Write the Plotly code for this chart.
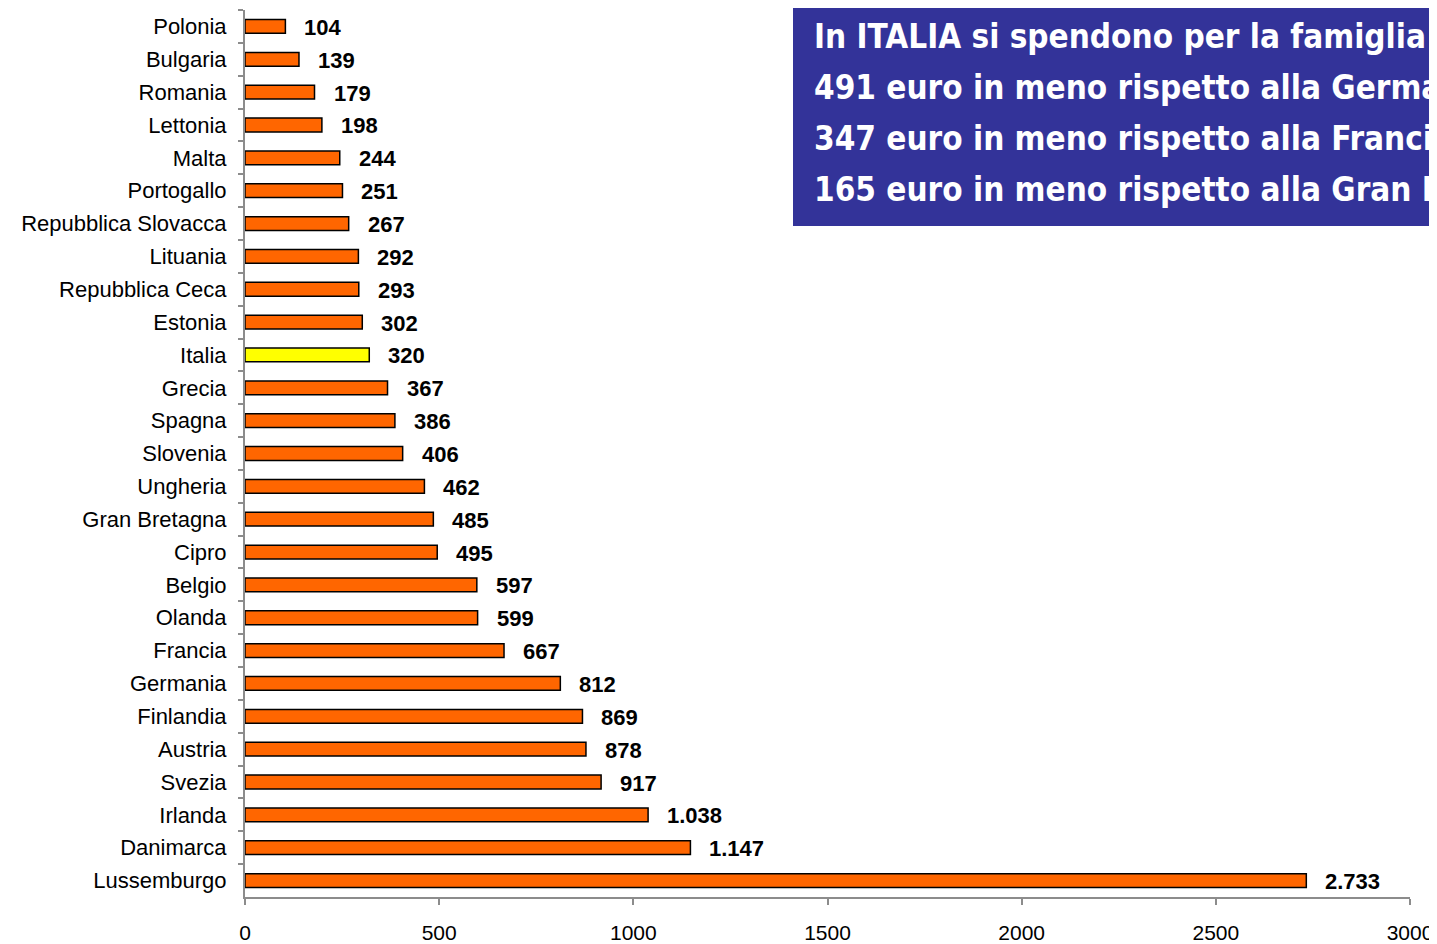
import plotly.graph_objects as go

paesi = [
    "Polonia", "Bulgaria", "Romania", "Lettonia", "Malta", "Portogallo",
    "Repubblica Slovacca", "Lituania", "Repubblica Ceca", "Estonia", "Italia",
    "Grecia", "Spagna", "Slovenia", "Ungheria", "Gran Bretagna", "Cipro",
    "Belgio", "Olanda", "Francia", "Germania", "Finlandia", "Austria",
    "Svezia", "Irlanda", "Danimarca", "Lussemburgo",
]
spesa = [
    104, 139, 179, 198, 244, 251, 267, 292, 293, 302, 320, 367, 386, 406,
    462, 485, 495, 597, 599, 667, 812, 869, 878, 917, 1038, 1147, 2733,
]
x_ticks = [0, 500, 1000, 1500, 2000, 2500, 3000]
box_lines = [
    "In ITALIA si spendono per la famiglia",
    "491 euro in meno rispetto alla Germania",
    "347 euro in meno rispetto alla Francia",
    "165 euro in meno rispetto alla Gran Bretagna",
]

ORANGE = "#FF6600"
YELLOW = "#FFFF00"
AXIS_GREY = "#8C8C8C"

# the page body adds an 8px margin, so the figure is 8px smaller
OFF = 8
W, H = 1437 - OFF, 944 - OFF
PLOT_LEFT, PLOT_RIGHT, PLOT_TOP, PLOT_BOTTOM = 245, 1410, 10, 897
L, R = PLOT_LEFT - OFF, 1437 - PLOT_RIGHT
T, B = PLOT_TOP - OFF, 944 - PLOT_BOTTOM
pw, ph = PLOT_RIGHT - PLOT_LEFT, PLOT_BOTTOM - PLOT_TOP


def px_x(px):
    return (px - PLOT_LEFT) / pw


def px_y(py):
    return (PLOT_BOTTOM - py) / ph


colors = [YELLOW if p == "Italia" else ORANGE for p in paesi]

fig = go.Figure(
    go.Bar(
        x=spesa,
        y=paesi,
        orientation="h",
        width=0.42,
        marker=dict(color=colors, line=dict(color="black", width=1.5)),
        hoverinfo="x+y",
    )
)

# value labels to the right of each bar
for p, v in zip(paesi, spesa):
    fig.add_annotation(
        x=v, y=p, xref="x", yref="y",
        text=f"<b>{v:,}</b>".replace(",", "."),
        showarrow=False, xanchor="left", yanchor="middle",
        xshift=17, yshift=-1,
        font=dict(family="Liberation Sans, Arial, sans-serif", size=22, color="black"),
    )

# blue box with the comparison text
fig.add_shape(
    type="rect", xref="paper", yref="paper",
    x0=px_x(793), x1=px_x(1460), y0=px_y(226), y1=px_y(-10),
    fillcolor="#333399", line=dict(width=0), layer="above",
)
for i, line in enumerate(box_lines):
    fig.add_annotation(
        xref="paper", yref="paper",
        x=px_x(812), y=px_y(37 + 51 * i),
        xanchor="left", yanchor="middle", align="left",
        text=f"<b>{line}</b>",
        showarrow=False,
        font=dict(family="DejaVu Sans Condensed, Liberation Sans Narrow, sans-serif",
                  size=33, color="white"),
    )

fig.update_layout(
    width=W, height=H,
    margin=dict(l=L, r=R, t=T, b=B),
    plot_bgcolor="white", paper_bgcolor="white",
    showlegend=False,
    font=dict(family="Liberation Sans, Arial, sans-serif", size=22, color="black"),
    xaxis=dict(
        range=[0, 3000], tickvals=x_ticks, ticktext=[str(t) for t in x_ticks],
        showgrid=False, zeroline=False, automargin=False,
        showline=True, linecolor=AXIS_GREY, linewidth=2,
        ticks="outside", ticklen=6, tickwidth=2, tickcolor=AXIS_GREY,
        ticklabelstandoff=10,
        tickfont=dict(size=21),
    ),
    yaxis=dict(
        autorange="reversed", automargin=False,
        showgrid=False, zeroline=False,
        showline=True, linecolor=AXIS_GREY, linewidth=2,
        ticks="outside", ticklen=5, tickwidth=2, tickcolor=AXIS_GREY,
        tickson="boundaries",
        ticklabelstandoff=12,
        tickfont=dict(size=22),
    ),
)

fig.write_html("out.html")
